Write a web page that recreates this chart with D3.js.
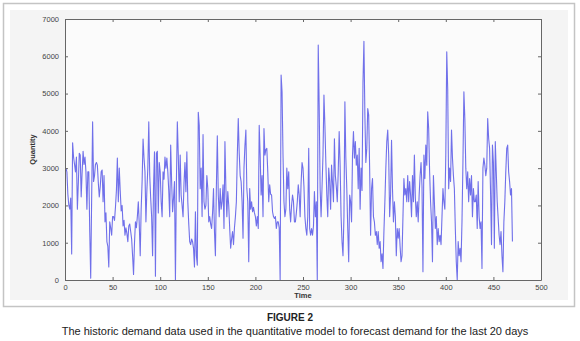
<!DOCTYPE html>
<html><head><meta charset="utf-8">
<script src="https://cdn.jsdelivr.net/npm/d3@7"></script>
<style>body{margin:0;background:#fff;}svg{display:block;font-family:"Liberation Sans",Arial,sans-serif;}</style>
</head><body>
<svg id="c" width="580" height="341"></svg>
<script>
const demand = [
3000,2900,2300,2000,1900,2200,700,3680,3300,3100,
2900,3300,1900,2600,3400,3350,2230,2900,3450,3100,
3300,2900,1900,2900,2900,1300,50,2200,4240,2640,
2800,3100,3150,3080,2600,2230,2500,2900,2950,2100,
2800,1560,1800,1030,900,350,1560,1400,1200,1700,
1700,1600,1950,2400,3270,2100,3000,2400,1850,2000,
1450,1600,1200,1400,1250,1030,1450,1500,1300,1100,
650,150,1000,1560,1400,1700,2100,1500,650,1900,
2640,3780,3270,2900,1560,2400,3000,4240,2800,2200,
1700,650,2500,3440,100,3400,3450,1800,3150,2900,
2100,1700,2900,2700,3300,3000,3270,2900,2400,1700,
3620,2640,1830,2200,2640,0,2600,4240,3350,2100,
3350,2280,2000,1700,2600,3150,2370,3440,2100,1500,
1030,950,1100,1030,850,350,1830,650,400,4500,
4150,2450,3000,1700,3900,2100,1900,2000,2800,2450,
1560,1700,1500,1380,1800,2450,1300,650,2500,3870,
2280,1700,2450,1900,2100,2550,1380,3710,2450,1700,
2370,2000,1380,850,1100,1300,950,1400,1700,2100,
3350,4330,3400,2800,2640,2100,1120,3000,3600,4020,
2450,2100,490,2450,1900,2100,1830,1950,1800,1700,
1450,1700,1380,4150,3350,2280,2800,1700,4060,3350,
3500,3530,2900,2100,2550,2300,2280,1830,1700,1650,
1700,1380,1560,1560,1400,0,5500,5050,3350,2100,
1700,1900,3000,2450,2900,1900,1560,2000,2280,2100,
1560,1560,1800,2100,2550,2280,1700,2600,3150,3000,
2500,1700,1380,1200,1700,3530,1380,1200,1380,1200,
1450,2370,1700,2100,0,6300,4690,2450,1700,2500,
3350,4960,4150,3150,2280,1700,3000,2640,1900,3080,
2600,2100,3790,2800,2500,2100,2900,3980,3080,1700,
1030,650,1700,4780,3270,2450,1380,490,2280,2100,
1560,3350,3980,3270,3710,3080,3350,2450,3530,1900,
3000,2400,5300,6400,4420,3150,3530,4600,4420,3000,
1200,2450,2720,1700,1560,1200,1300,950,1300,850,
1030,490,700,310,1300,2100,3000,3710,4020,3350,
1700,2280,3750,2450,1560,2100,1700,650,1380,1120,
1380,900,490,650,1700,2720,2280,2450,2100,2800,
2100,2640,2280,1700,2800,2100,3350,2200,1700,2100,
1560,2280,2800,3150,2500,220,3350,2720,3620,3080,
4510,4060,2900,2100,1560,490,2800,2100,1380,1700,
950,1380,1030,1200,950,1700,2450,2100,1900,3350,
6120,5130,2450,3000,2640,4020,3270,2800,2450,1380,
490,0,1030,650,850,490,1560,3150,5050,4330,
3000,2450,2900,2100,2720,2280,2800,1700,2450,2100,
2100,2280,1380,2640,1700,1380,1560,310,3000,3270,
3080,2800,3000,4330,3800,3530,2370,950,3620,3150,
850,3710,2900,2100,1650,1200,950,1300,650,220,
1560,2100,2900,3530,3620,2900,2640,2280,2450,1030
];
const xTicks = [0,50,100,150,200,250,300,350,400,450,500];
const yTicks = [0,1000,2000,3000,4000,5000,6000,7000];
const xLabel = "Time";
const yLabel = "Quantity";
const figTitle = "FIGURE 2";
const caption = "The historic demand data used in the quantitative model to forecast demand for the last 20 days";

const svg = d3.select("#c");
svg.append("rect").attr("x",3.5).attr("y",3.5).attr("width",571).attr("height",303)
  .attr("fill","#ffffff").attr("stroke","#c4c4c4").attr("stroke-width",1.5);
svg.append("rect").attr("x",10).attr("y",10).attr("width",558).attr("height",290).attr("fill","#f4f4f4");

const L=65,R=541,T=19,B=280;
const x = d3.scaleLinear().domain([0,500]).range([L,R]);
const y = d3.scaleLinear().domain([0,7000]).range([B,T]);

svg.append("rect").attr("x",L).attr("y",T).attr("width",R-L).attr("height",B-T).attr("fill","#fbfbfb");

const line = d3.line().x((d,i)=>x(i+1)).y(d=>y(d));
svg.append("path").datum(demand).attr("d",line).attr("fill","none")
  .attr("stroke","#3535e2").attr("stroke-width",1.1).attr("stroke-opacity",0.7).attr("stroke-linejoin","round");

const axCol="#666";
function styleAxis(g){
  g.select(".domain").attr("stroke",axCol);
  g.selectAll(".tick line").attr("stroke",axCol);
  g.selectAll(".tick text").attr("fill","#444").style("font-size","7.5px").style("font-family","'Liberation Sans',Arial,sans-serif");
}
const gx = svg.append("g").attr("transform",`translate(0,${B})`)
  .call(d3.axisBottom(x).tickValues(xTicks).tickSize(-3).tickPadding(5).tickSizeOuter(0).tickFormat(d3.format("d")));
styleAxis(gx);
const gxt = svg.append("g").attr("transform",`translate(0,${T})`)
  .call(d3.axisTop(x).tickValues(xTicks).tickSize(-3).tickSizeOuter(0).tickFormat(""));
styleAxis(gxt);
const gy = svg.append("g").attr("transform",`translate(${L},0)`)
  .call(d3.axisLeft(y).tickValues(yTicks).tickSize(-3).tickPadding(6).tickSizeOuter(0).tickFormat(d3.format("d")));
styleAxis(gy);
const gyr = svg.append("g").attr("transform",`translate(${R},0)`)
  .call(d3.axisRight(y).tickValues(yTicks).tickSize(-3).tickSizeOuter(0).tickFormat(""));
styleAxis(gyr);

svg.append("text").attr("x",(L+R)/2).attr("y",298).attr("text-anchor","middle")
  .style("font-size","7.5px").style("font-weight","bold").attr("fill","#333").text(xLabel);
svg.append("text").attr("transform",`translate(35,${(T+B)/2}) rotate(-90)`).attr("text-anchor","middle")
  .style("font-size","7.5px").style("font-weight","bold").attr("fill","#333").text(yLabel);

svg.append("text").attr("x",290).attr("y",321).attr("text-anchor","middle")
  .style("font-size","10px").style("font-weight","bold").attr("fill","#222").text(figTitle);
svg.append("text").attr("x",295).attr("y",335).attr("text-anchor","middle")
  .style("font-size","11px").attr("fill","#222").text(caption);
</script>
</body></html>
